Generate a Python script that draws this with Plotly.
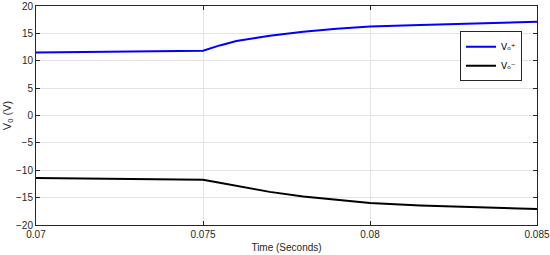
import plotly.graph_objects as go

# time samples (s)
t = [0.07, 0.075, 0.0755, 0.076, 0.077, 0.078, 0.079, 0.080, 0.0815, 0.083, 0.085]
vo_pos = [11.5, 11.82, 12.8, 13.6, 14.55, 15.3, 15.85, 16.25, 16.55, 16.85, 17.13]
vo_neg = [-11.4, -11.75, -12.3, -12.85, -13.95, -14.8, -15.45, -16.0, -16.45, -16.75, -17.06]

x_ticks = [0.07, 0.075, 0.08, 0.085]
x_labels = ["0.07", "0.075", "0.08", "0.085"]
y_ticks = [-20, -15, -10, -5, 0, 5, 10, 15, 20]

fig = go.Figure()
fig.add_trace(go.Scatter(x=t, y=vo_pos, mode="lines", name="Vₒ⁺",
                         line=dict(color="#0000ff", width=2)))
fig.add_trace(go.Scatter(x=t, y=vo_neg, mode="lines", name="Vₒ⁻",
                         line=dict(color="#000000", width=2)))

axis_style = dict(
    showline=True, linecolor="#262626", linewidth=1, mirror="ticks",
    ticks="inside", ticklen=4, tickcolor="#262626", automargin=False,
    showgrid=True, gridcolor="#e3e3e3", gridwidth=1, zeroline=False,
    tickfont=dict(family="Liberation Sans, Arial", size=10, color="#262626"),
)

fig.update_xaxes(range=[0.07, 0.085], tickvals=x_ticks, ticktext=x_labels,
                 title=dict(text="Time (Seconds)", standoff=4,
                            font=dict(family="Liberation Sans, Arial", size=10, color="#262626")),
                 **axis_style)
fig.update_yaxes(range=[-20, 20], tickvals=y_ticks,
                 title=dict(text="V<sub>0</sub> (V)", standoff=2,
                            font=dict(family="Liberation Sans, Arial", size=11, color="#262626")),
                 **axis_style)

fig.update_layout(
    width=550, height=255,
    margin=dict(l=36, r=13, t=6, b=30),
    plot_bgcolor="white", paper_bgcolor="white",
    legend=dict(x=0.97, y=0.885, xanchor="right", yanchor="top",
                bgcolor="white", bordercolor="#262626", borderwidth=1,
                font=dict(family="DejaVu Sans, Liberation Sans", size=9, color="#000000"),
                tracegroupgap=0, itemwidth=30),
    showlegend=True,
)

fig.write_html("out.html", config={"displayModeBar": False},
               post_script="document.body.style.margin='0px';document.body.style.overflow='hidden';")
